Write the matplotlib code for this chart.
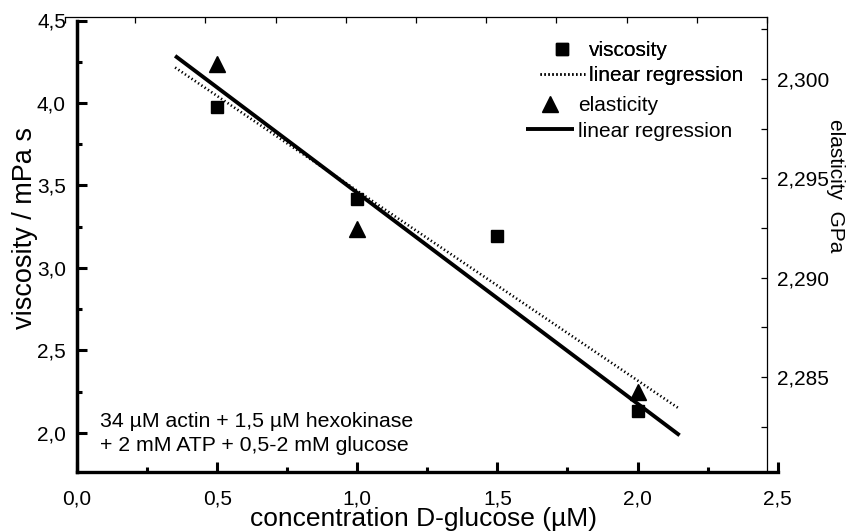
import numpy as np
import matplotlib
matplotlib.use("Agg")
import matplotlib.pyplot as plt
from matplotlib.ticker import MultipleLocator, FuncFormatter, NullFormatter

plt.rcParams['font.family'] = ['Liberation Sans', 'DejaVu Sans']

# ---- data ----
conc_visc = [0.5, 1.0, 1.5, 2.0]
viscosity = [3.976, 3.416, 3.194, 2.133]
conc_elast = [0.5, 1.0, 2.0]
elasticity = [2.30078, 2.29246, 2.28426]
fit_range = [0.35, 2.15]
annotation = "34 \u00b5M actin + 1,5 \u00b5M hexokinase\n+ 2 mM ATP + 0,5-2 mM glucose"

W, H = 858, 532
fig = plt.figure(figsize=(W / 100, H / 100), dpi=100)

def fx(px):
    return px / W

def fy(py):
    return 1 - py / H

# main layer (left / bottom axes)
x0_px, x1_px = 77.0, 777.7
ytop_px, ybot_px = 20.5, 471.5
ax = fig.add_axes([fx(x0_px), fy(ybot_px), fx(x1_px - x0_px), (ybot_px - ytop_px) / H])
xlim = (0.0, 2.5)
ylim = (1.765, 4.5)
ax.set_xlim(*xlim)
ax.set_ylim(*ylim)

# second layer (right / top axes) with its own frame
l2_x0, l2_x1 = 65.0, 767.0
l2_top = 17.0
l2_rect = [fx(l2_x0), fy(ybot_px), fx(l2_x1 - l2_x0), (ybot_px - l2_top) / H]
ax2 = fig.add_axes(l2_rect)
ax2.patch.set_visible(False)
scale = (xlim[1] - xlim[0]) / (x1_px - x0_px)
ax2.set_xlim(xlim[0] + (l2_x0 - x0_px) * scale, xlim[0] + (l2_x1 - x0_px) * scale)
ax2.set_ylim(2.280243, 2.303121)

# top axis of the second layer (own 0..2,5 scale, ticks only)
ax3 = fig.add_axes(l2_rect)
ax3.patch.set_visible(False)
for s in ['left', 'right', 'bottom', 'top']:
    ax3.spines[s].set_visible(False)
ax3.set_xlim(*xlim)
ax3.yaxis.set_visible(False)
ax3.xaxis.tick_top()
ax3.xaxis.set_major_locator(MultipleLocator(0.5))
ax3.xaxis.set_minor_locator(MultipleLocator(0.25))
ax3.xaxis.set_major_formatter(NullFormatter())
ax3.tick_params(axis='x', which='both', direction='in', length=4.5, width=0.9)

# ---- plotting ----
xs = np.linspace(fit_range[0], fit_range[1], 50)
pv = np.polyfit(conc_visc, viscosity, 1)
pe = np.polyfit(conc_elast, elasticity, 1)

h1, = ax.plot(conc_visc, viscosity, 's', color='black', markersize=9, label='viscosity', zorder=5)
h2, = ax.plot(xs, np.polyval(pv, xs), color='black', lw=1.9, linestyle=(0, (0.5, 1.0)),
              label='linear regression')
h3, = ax2.plot(conc_elast, elasticity, '^', color='black', markersize=11, label='elasticity', zorder=5)
h4, = ax2.plot(xs, np.polyval(pe, xs), color='black', lw=2.8, solid_capstyle='butt',
               label='linear regression')

# ---- main axes styling ----
for s in ['top', 'right']:
    ax.spines[s].set_visible(False)
ax.spines['left'].set_linewidth(2.5)
ax.spines['bottom'].set_linewidth(2.4)
ax.xaxis.set_major_locator(MultipleLocator(0.5))
ax.xaxis.set_minor_locator(MultipleLocator(0.25))
ax.yaxis.set_major_locator(MultipleLocator(0.5))
ax.yaxis.set_minor_locator(MultipleLocator(0.25))
ax.xaxis.set_major_formatter(FuncFormatter(lambda v, p: f"{v:.1f}".replace('.', ',')))
ax.yaxis.set_major_formatter(FuncFormatter(lambda v, p: f"{v:.1f}".replace('.', ',')))
ax.tick_params(axis='both', which='major', direction='in', length=7, width=2.2, labelsize=15)
ax.tick_params(axis='both', which='minor', direction='in', length=3.5, width=2.2)
ax.tick_params(axis='x', which='major', pad=13)
ax.tick_params(axis='y', which='major', pad=8)

ax.set_xlabel("concentration D-glucose (\u00b5M)", fontsize=19, va='bottom')
ax.xaxis.set_label_coords(fx(424), fy(531), transform=fig.transFigure)
ax.set_ylabel("viscosity / mPa s", fontsize=19.5, va='center', ha='center')
ax.yaxis.set_label_coords(fx(25), fy(228), transform=fig.transFigure)

# ---- second layer styling ----
ax2.spines['left'].set_visible(False)
ax2.spines['bottom'].set_visible(False)
ax2.spines['right'].set_linewidth(0.9)
ax2.spines['top'].set_linewidth(0.9)
ax2.xaxis.set_visible(False)
ax2.yaxis.tick_right()
ax2.yaxis.set_label_position('right')
ax2.yaxis.set_major_locator(MultipleLocator(0.005))
ax2.yaxis.set_minor_locator(MultipleLocator(0.0025))
ax2.yaxis.set_major_formatter(FuncFormatter(lambda v, p: f"{v:.3f}".replace('.', ',')))
ax2.tick_params(axis='y', which='both', direction='in', length=4, width=0.9, labelsize=15, pad=7)
ax2.set_ylabel("elasticity  GPa", fontsize=15, rotation=-90, va='center', ha='center')
ax2.yaxis.set_label_coords(fx(836), fy(186), transform=fig.transFigure)

# ---- annotation ----
fig.text(fx(100), fy(433.5), annotation, fontsize=15.3,
         ha='left', va='center', linespacing=1.3)

# ---- legend (two groups, as in the original layout) ----
legA = fig.legend([h1, h2], ['viscosity', 'linear regression'],
                  loc='upper left', bbox_to_anchor=(fx(540), fy(41)), frameon=False,
                  fontsize=15, handlelength=2.15, handletextpad=0.2, labelspacing=0.29,
                  borderpad=0, borderaxespad=0)
legB = fig.legend([h3, h4], ['elasticity', 'linear regression'],
                  loc='upper left', bbox_to_anchor=(fx(526), fy(96)), frameon=False,
                  fontsize=15, handlelength=2.3, handletextpad=0.2, labelspacing=0.32,
                  borderpad=0, borderaxespad=0)
fig.add_artist(legA)

fig.savefig("out.png", dpi=100)
